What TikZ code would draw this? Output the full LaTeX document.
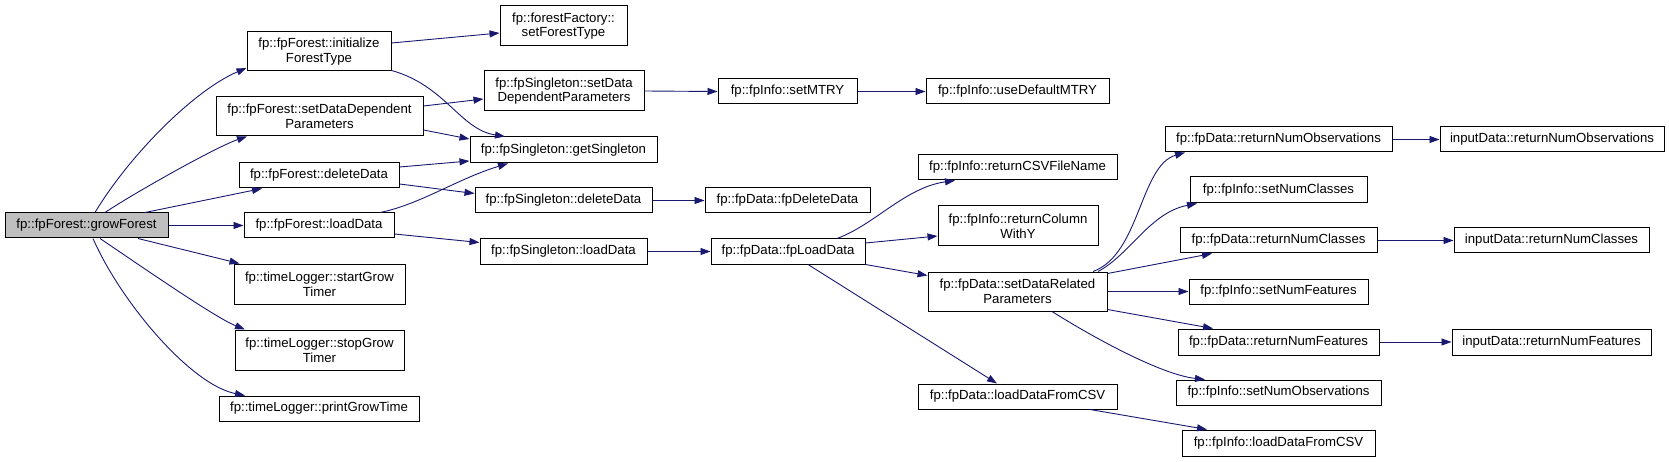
\documentclass[tikz,border=0pt]{standalone}
\usepackage{fontspec}
\setmainfont{Liberation Sans}
\usetikzlibrary{arrows.meta,calc}
\definecolor{edgecol}{RGB}{25,25,112}
\definecolor{rootfill}{RGB}{191,191,191}
\newcommand\bx[6]{\node[box,minimum width=#4pt,minimum height=#5pt] (#1) at (#2,#3) {#6};}
\begin{document}
\begin{tikzpicture}[x=1pt,y=-1pt,
  box/.style={draw=black,fill=white,line width=1pt,inner sep=0pt,align=center,
    font=\fontsize{13.2}{14.7}\selectfont},
  rootbox/.style={fill=rootfill},
  call/.style={draw=edgecol,line width=0.9pt,-{Triangle[length=10pt,width=7pt]}}]
\useasboundingbox (0,0) rectangle (1669,462);
\node[box,rootbox,minimum width=163pt,minimum height=25pt] (gf) at (86.5,225.5) {fp::fpForest::growForest};
\bx{init}{319}{51.5}{144}{39}{fp::fpForest::initialize\\ForestType}
\bx{sdpF}{319.5}{116.5}{207}{39}{fp::fpForest::setDataDependent\\Parameters}
\bx{delF}{319}{175.5}{160}{25}{fp::fpForest::deleteData}
\bx{loadF}{319}{225.5}{150}{25}{fp::fpForest::loadData}
\bx{start}{319.5}{284}{171}{40}{fp::timeLogger::startGrow\\Timer}
\bx{stop}{319.5}{350}{169}{40}{fp::timeLogger::stopGrow\\Timer}
\bx{print}{319}{408.5}{200}{25}{fp::timeLogger::printGrowTime}
\bx{sft}{563.5}{26}{127}{40}{fp::forestFactory::\\setForestType}
\bx{sdpS}{564}{91}{160}{40}{fp::fpSingleton::setData\\DependentParameters}
\bx{getS}{563.5}{150}{187}{26}{fp::fpSingleton::getSingleton}
\bx{delS}{563.5}{200.5}{177}{25}{fp::fpSingleton::deleteData}
\bx{loadS}{563.5}{251.5}{167}{25}{fp::fpSingleton::loadData}
\bx{mtry}{787.5}{91.5}{139}{25}{fp::fpInfo::setMTRY}
\bx{udm}{1017.5}{91.5}{183}{25}{fp::fpInfo::useDefaultMTRY}
\bx{fdd}{787.5}{200.5}{165}{25}{fp::fpData::fpDeleteData}
\bx{fld}{788}{251.5}{154}{25}{fp::fpData::fpLoadData}
\bx{rcsv}{1017.5}{167.5}{199}{25}{fp::fpInfo::returnCSVFileName}
\bx{rcwy}{1018}{226}{160}{40}{fp::fpInfo::returnColumn\\WithY}
\bx{sdrp}{1017.5}{291.5}{179}{39}{fp::fpData::setDataRelated\\Parameters}
\bx{ldfc}{1017.5}{396.5}{199}{25}{fp::fpData::loadDataFromCSV}
\bx{rno}{1278.5}{139.5}{227}{25}{fp::fpData::returnNumObservations}
\bx{irno}{1552}{139.5}{224}{25}{inputData::returnNumObservations}
\bx{snc}{1278.5}{190}{177}{26}{fp::fpInfo::setNumClasses}
\bx{rnc}{1278.5}{240.5}{197}{25}{fp::fpData::returnNumClasses}
\bx{irnc}{1551.5}{240.5}{195}{25}{inputData::returnNumClasses}
\bx{snf}{1278.5}{291.5}{179}{25}{fp::fpInfo::setNumFeatures}
\bx{rnf}{1278.5}{342}{201}{26}{fp::fpData::returnNumFeatures}
\bx{irnf}{1551.5}{342}{199}{26}{inputData::returnNumFeatures}
\bx{sno}{1278.5}{392.5}{205}{25}{fp::fpInfo::setNumObservations}
\bx{ildfc}{1278.5}{443}{193}{26}{fp::fpInfo::loadDataFromCSV}
% growForest edges
\draw[call] ($(gf.north)+(8.5,0)$) .. controls +(35,-58) and +(-52,22) .. ($(init.west)+(0,16.5)$);
\draw[call] ($(gf.north)+(18.5,0)$) .. controls +(30,-20) and +(-30,10) .. ($(sdpF.south)+(-72.5,0)$);
\draw[call] ($(gf.north)+(58.5,0)$) -- ($(delF.south)+(-57,0)$);
\draw[call] (gf.east) -- (loadF.west);
\draw[call] ($(gf.south)+(51.5,0)$) -- ($(start.north)+(-80,0)$);
\draw[call] ($(gf.south)+(13.5,0)$) .. controls +(40,27) and +(-30,-12) .. ($(stop.north)+(-74.5,0)$);
\draw[call] ($(gf.south)+(6.5,0)$) .. controls +(27,62) and +(-55,-11) .. ($(print.north)+(-74,0)$);
% second level
\draw[call] ($(init.east)+(0,-8.5)$) -- ($(sft.west)+(0,7)$);
\draw[call] ($(init.south east)+(0,-1)$) .. controls +(54,15) and +(-45,-7) .. ($(getS.north)+(-58.5,0)$);
\draw[call] ($(sdpF.east)+(0,-10.5)$) -- ($(sdpS.west)+(0,8)$);
\draw[call] ($(sdpF.east)+(0,13.5)$) -- ($(getS.west)+(0,-11)$);
\draw[call] ($(delF.east)+(0,-8.5)$) -- ($(getS.west)+(0,11)$);
\draw[call] ($(delF.east)+(0,8.5)$) -- ($(delS.west)+(0,-7)$);
\draw[call] ($(loadF.north)+(61,0)$) .. controls +(40,-8) and +(-50,15) .. ($(getS.south)+(-55.5,0)$);
\draw[call] ($(loadF.east)+(0,8.5)$) -- ($(loadS.west)+(0,-9)$);
% third level
\draw[call] (sdpS.east) -- (mtry.west);
\draw[call] (mtry.east) -- (udm.west);
\draw[call] (delS.east) -- (fdd.west);
\draw[call] (loadS.east) -- (fld.west);
% fpLoadData
\draw[call] ($(fld.north)+(49,0)$) .. controls +(38,-14) and +(-50,7) .. ($(rcsv.south)+(-62.5,0)$);
\draw[call] ($(fld.east)+(0,-8.5)$) -- ($(rcwy.west)+(0,10)$);
\draw[call] (fld.south east) -- ($(sdrp.west)+(0,-16)$);
\draw[call] ($(fld.south)+(20,0)$) -- ($(ldfc.north)+(-20.5,0)$);
% setDataRelatedParameters
\draw[call] ($(sdrp.north)+(75.5,0)$) .. controls +(47,-17) and +(-45,13) .. ($(rno.south)+(-93.5,0)$);
\draw[call] ($(sdrp.north)+(80.5,0)$) .. controls +(32,-17) and +(-47,9) .. ($(snc.south)+(-81.5,0)$);
\draw[call] ($(sdrp.north east)+(0,2)$) -- ($(rnc.south)+(-66.5,0)$);
\draw[call] (sdrp.east) -- (snf.west);
\draw[call] ($(sdrp.south east)+(0,-2)$) -- ($(rnf.north)+(-65.5,0)$);
\draw[call] ($(sdrp.south)+(34.5,0)$) .. controls +(38,24) and +(-45,-5) .. ($(sno.north)+(-73.5,0)$);
\draw[call] ($(ldfc.south)+(72.5,0)$) -- ($(ildfc.north)+(-71.5,0)$);
% inputData
\draw[call] (rno.east) -- (irno.west);
\draw[call] (rnc.east) -- (irnc.west);
\draw[call] (rnf.east) -- (irnf.west);
\end{tikzpicture}
\end{document}
